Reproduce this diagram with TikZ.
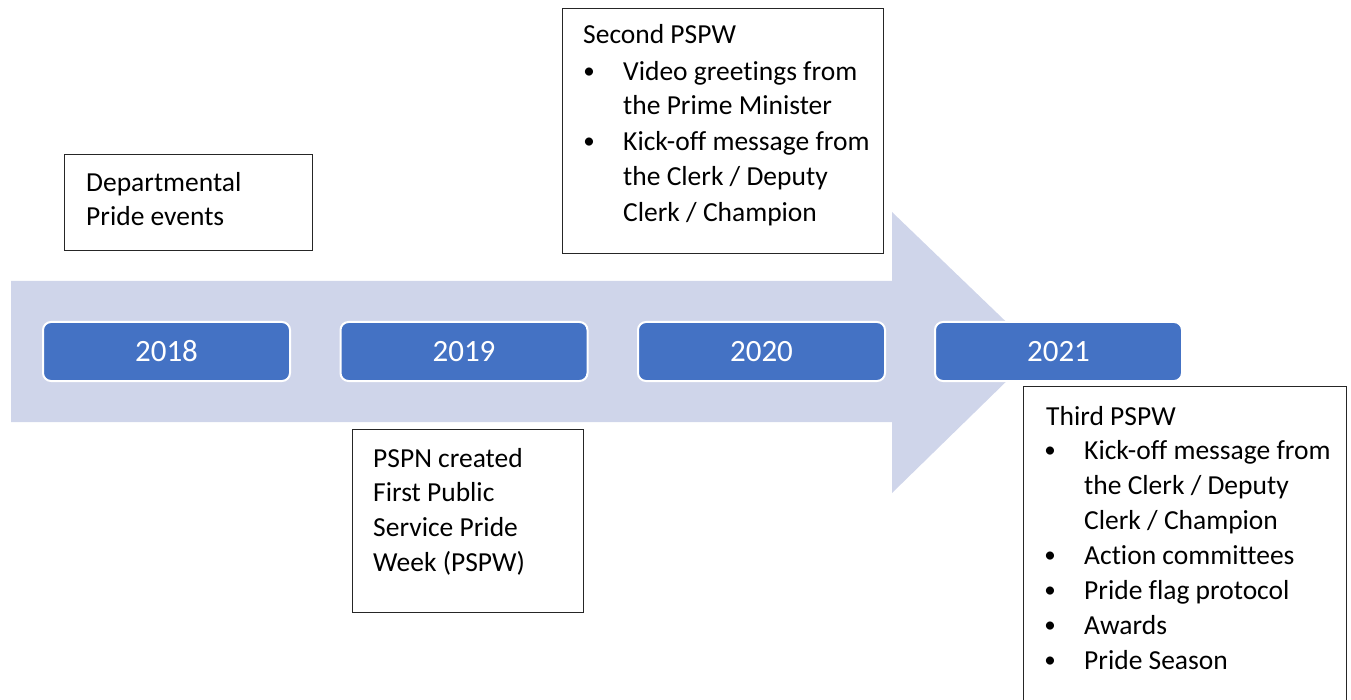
\documentclass[tikz,border=0pt]{standalone}
\usepackage{fontspec}
\setmainfont{Carlito}[Ligatures=NoCommon]
\definecolor{arrowfill}{HTML}{CFD5EA}
\definecolor{yearfill}{HTML}{4472C4}
\begin{document}
\begin{tikzpicture}[x=1pt,y=-1pt,
  year/.style={fill=yearfill, draw=white, line width=2pt, rounded corners=8pt,
    minimum width=247pt, minimum height=59pt, inner sep=0pt, text=white,
    font=\fontsize{31}{31}\selectfont},
  infobox/.style={draw=black!85, line width=1.2pt, fill=white, anchor=north west, inner sep=0pt},
  txt/.style={anchor=base west, inner sep=0pt, font=\fontsize{27.5}{35}\selectfont},
  bul/.style={anchor=base, inner sep=0pt, font=\fontsize{23}{35}\selectfont}]
\useasboundingbox (0,0) rectangle (1351,700);
\clip (0,0) rectangle (1351,700);
% big arrow
\fill[arrowfill] (11,281) -- (892,281) -- (892,212) -- (1037,351.5) -- (892,493)
  -- (892,422) -- (11,422) -- cycle;
% year boxes
\node[year] (y2018) at (166.5,351.5) {2018};
\node[year] (y2019) at (464,351.5) {2019};
\node[year] (y2020) at (761.5,351.5) {2020};
\node[year] (y2021) at (1058.5,351.5) {2021};
% box 1
\node[infobox, minimum width=248pt, minimum height=96pt] (b1) at (64,154) {};
\node[txt] (b1a) at (86,192) {Departmental};
\node[txt] (b1b) at (86,226) {Pride events};
% box 2
\node[infobox, minimum width=231pt, minimum height=183pt] (b2) at (352,429) {};
\node[txt] (b2a) at (373,467) {PSPN created};
\node[txt] (b2b) at (373,501) {First Public};
\node[txt] (b2c) at (373,536) {Service Pride};
\node[txt] (b2d) at (373,571) {Week (PSPW)};
% box 3
\node[infobox, minimum width=321pt, minimum height=245pt] (b3) at (562,8) {};
\node[txt] (b3a) at (583,44) {Second PSPW};
\node[bul] (b3p1) at (589,79) {•};
\node[txt] (b3b) at (623,81) {Video greetings from};
\node[txt] (b3c) at (623,115) {the Prime Minister};
\node[bul] (b3p2) at (589,149) {•};
\node[txt] (b3d) at (623,151) {Kick-off message from};
\node[txt] (b3e) at (623,186) {the Clerk / Deputy};
\node[txt] (b3f) at (623,222) {Clerk / Champion};
% box 4
\node[infobox, minimum width=323pt, minimum height=330pt] (b4) at (1023,386) {};
\node[txt] (b4a) at (1046,425) {Third PSPW};
\node[bul] (b4p1) at (1050,457) {•};
\node[txt] (b4b) at (1084,459) {Kick-off message from};
\node[txt] (b4c) at (1084,494) {the Clerk / Deputy};
\node[txt] (b4d) at (1084,529) {Clerk / Champion};
\node[bul] (b4p2) at (1050,562) {•};
\node[txt] (b4e) at (1084,564) {Action committees};
\node[bul] (b4p3) at (1050,597) {•};
\node[txt] (b4f) at (1084,599) {Pride flag protocol};
\node[bul] (b4p4) at (1050,632) {•};
\node[txt] (b4g) at (1084,634) {Awards};
\node[bul] (b4p5) at (1050,667) {•};
\node[txt] (b4h) at (1084,669) {Pride Season};
\end{tikzpicture}
\end{document}
